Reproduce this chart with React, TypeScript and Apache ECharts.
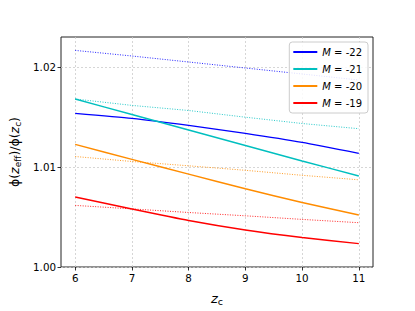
import React, { useEffect, useRef } from "react";
import * as echarts from "echarts";

const zc = [6, 7, 8, 9, 10, 11];
const xTicks = [6, 7, 8, 9, 10, 11];
const yTicks = [1.0, 1.01, 1.02];
const labels = ["-22", "-21", "-20", "-19"];
const colors = ["#0000ff", "#00bfbf", "#ff8c00", "#ff0000"];

const solidM22 = [1.01536, 1.01486, 1.01416, 1.01336, 1.01246, 1.01136];
const solidM21 = [1.0168, 1.01525, 1.0137, 1.01215, 1.0106, 1.0091];
const solidM20 = [1.01226, 1.01076, 1.00929, 1.00782, 1.00645, 1.0052];
const solidM19 = [1.0070, 1.0058, 1.00465, 1.0037, 1.00295, 1.00234];

const dotM22 = [1.02166, 1.0211, 1.0205, 1.0199, 1.0193, 1.0187];
const dotM21 = [1.0168, 1.01616, 1.01565, 1.01498, 1.01435, 1.01383];
const dotM20 = [1.01105, 1.01055, 1.01012, 1.00967, 1.00917, 1.00872];
const dotM19 = [1.00616, 1.00581, 1.00545, 1.00512, 1.00476, 1.00443];

const solids = [solidM22, solidM21, solidM20, solidM19];
const dots = [dotM22, dotM21, dotM20, dotM19];

export default function App() {
  const ref = useRef<HTMLDivElement>(null);
  useEffect(() => {
    if (!ref.current) return;
    const chart = echarts.init(ref.current, undefined, { renderer: "svg" });
    const font = "DejaVu Sans";
    const series: any[] = [];
    dots.forEach((d, i) => {
      series.push({
        name: "dot" + i,
        type: "line",
        data: zc.map((x, k) => [x, d[k]]),
        showSymbol: false,
        lineStyle: { color: colors[i], width: 1, type: [1, 1.5], opacity: 0.85 },
        itemStyle: { color: colors[i] },
        z: 2,
      });
    });
    solids.forEach((d, i) => {
      series.push({
        name: "M = " + labels[i],
        type: "line",
        data: zc.map((x, k) => [x, d[k]]),
        showSymbol: false,
        smooth: 0.2,
        lineStyle: { color: colors[i], width: 1.4 },
        itemStyle: { color: colors[i] },
        z: 3,
      });
    });
    chart.setOption({
      animation: false,
      backgroundColor: "#ffffff",
      textStyle: { fontFamily: font },
      grid: {
        left: 52,
        right: 42,
        top: 37,
        bottom: 34,
        show: true,
        borderColor: "#222",
        borderWidth: 1,
        containLabel: false,
      },
      legend: {
        data: labels.map((l) => "M = " + l),
        orient: "vertical",
        right: 47,
        top: 42,
        itemWidth: 24,
        itemHeight: 2,
        itemGap: 7,
        icon: "rect",
        backgroundColor: "rgba(255,255,255,0.85)",
        borderColor: "#cccccc",
        borderWidth: 1,
        borderRadius: 3,
        padding: [5, 6, 5, 4],
        formatter: (name: string) => "{i|M} = " + name.replace("M = ", ""),
        textStyle: {
          fontFamily: font,
          fontSize: 10,
          color: "#000",
          rich: {
            i: { fontFamily: font, fontStyle: "italic", fontSize: 10, color: "#000" },
          },
        },
      },
      xAxis: {
        type: "value",
        min: 5.75,
        max: 11.25,
        name: "{i|z}{s|c}",
        nameLocation: "middle",
        nameGap: 23,
        nameTextStyle: {
          rich: {
            i: { fontFamily: font, fontStyle: "italic", fontSize: 13, color: "#000" },
            s: { fontFamily: font, fontSize: 9.5, color: "#000", padding: [6, 0, 0, 0] },
          },
        },
        axisLine: { show: false },
        axisTick: {
          show: true,
          length: 3.5,
          customValues: xTicks,
          lineStyle: { color: "#000", width: 0.8 },
        },
        axisLabel: {
          customValues: xTicks,
          fontSize: 10.3,
          color: "#000",
          margin: 6,
          fontFamily: font,
        },
        splitLine: {
          show: true,
          lineStyle: { color: "#cccccc", width: 0.8, type: [2, 2] },
        },
      },
      yAxis: {
        type: "value",
        min: 1.0,
        max: 1.023,
        name: "{a|ϕ(}{i|z}{s|eff}{a|)/ϕ(}{i|z}{s|c}{a|)}",
        nameLocation: "middle",
        nameRotate: 90,
        nameGap: 39,
        nameTextStyle: {
          rich: {
            a: { fontFamily: font, fontSize: 12.5, color: "#000" },
            i: { fontFamily: font, fontStyle: "italic", fontSize: 12.5, color: "#000" },
            s: { fontFamily: font, fontSize: 9, color: "#000", padding: [6, 0, 0, 0] },
          },
        },
        axisLine: { show: false },
        axisTick: {
          show: true,
          length: 3.5,
          customValues: yTicks,
          lineStyle: { color: "#000", width: 0.8 },
        },
        axisLabel: {
          customValues: yTicks,
          fontSize: 10.3,
          color: "#000",
          margin: 5,
          fontFamily: font,
          formatter: (v: number) => v.toFixed(2),
        },
        splitLine: {
          show: true,
          lineStyle: { color: "#cccccc", width: 0.8, type: [2, 2] },
        },
      },
      series,
    });
    return () => chart.dispose();
  }, []);
  return <div ref={ref} style={{ width: 415, height: 311, position: "absolute", left: 0, top: 0 }} />;
}
